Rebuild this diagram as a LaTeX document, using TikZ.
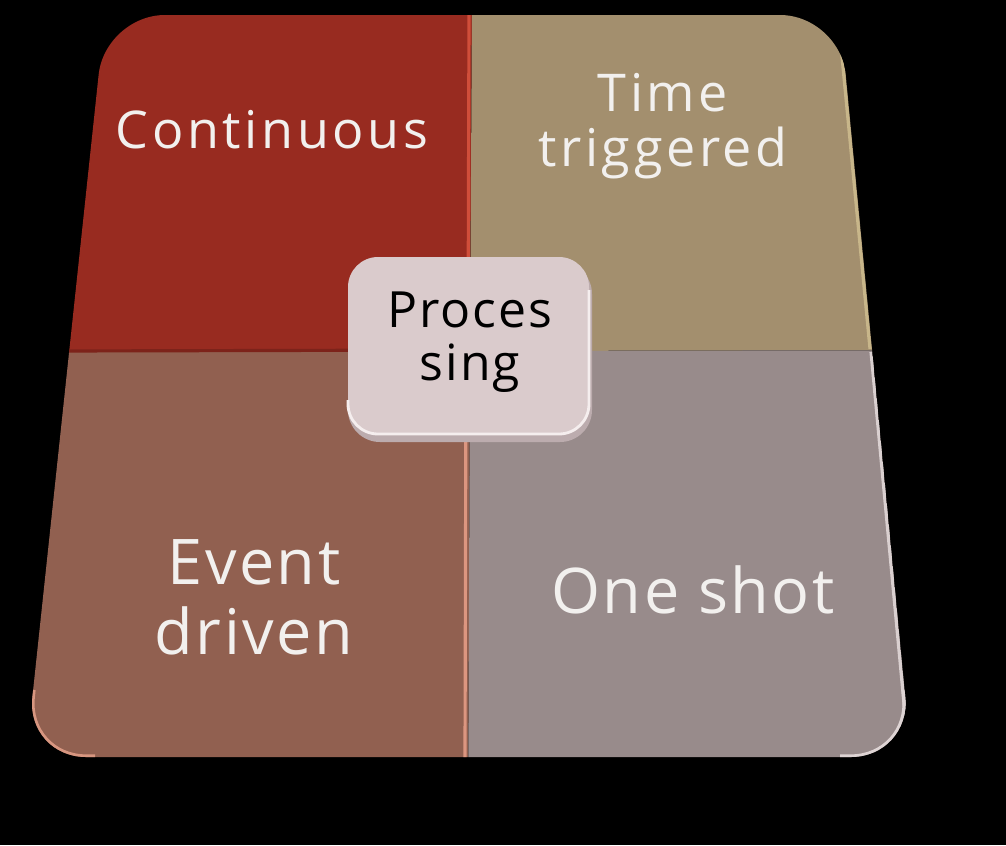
\documentclass[tikz,border=0pt]{standalone}
\usepackage{fontspec}
\setmainfont{Open Sans}[LetterSpace=4]
\definecolor{cTL}{RGB}{152,43,32}
\definecolor{cTR}{RGB}{163,143,110}
\definecolor{cBL}{RGB}{145,96,80}
\definecolor{cBR}{RGB}{152,139,139}
\definecolor{cBox}{RGB}{218,203,204}
\definecolor{cBoxEdge}{RGB}{188,172,174}
\definecolor{cTxt}{RGB}{242,240,238}
\tikzset{
  toplabel/.style={text=cTxt, align=center, font=\fontsize{14.8}{15.6}\selectfont\addfontfeature{LetterSpace=7}, inner sep=0pt},
  botlabel/.style={text=cTxt, align=center, font=\fontsize{17.9}{20}\selectfont, inner sep=0pt},
  boxlabel/.style={text=black, align=center, font=\fontsize{14.2}{15}\selectfont, inner sep=0pt},
  hilite/.style={line width=0.9pt}
}
\begin{document}
\begin{tikzpicture}[x=0.01cm, y=-0.01cm]
  \fill[black] (0,0) rectangle (1006,845);
  \useasboundingbox (0,0) rectangle (1006,845);
  \begin{scope}
    \clip[rounded corners=0.6cm] (105,15) -- (840,15) -- (911,757) -- (26,757) -- cycle;
    \fill[cTL] (0,0) -- (472,0) -- (470,351) -- (0,352) -- cycle;
    \fill[cTR] (472,0) -- (1006,0) -- (1006,350) -- (470,351) -- cycle;
    \fill[cBL] (0,352) -- (470,351) -- (468,845) -- (0,845) -- cycle;
    \fill[cBR] (470,351) -- (1006,350) -- (1006,845) -- (468,845) -- cycle;
    % bevel highlights
    \draw[hilite, color={rgb,255:red,208;green,78;blue,58}] (469,15) -- (468,350);
    \draw[hilite, color={rgb,255:red,220;green,150;blue,128}] (466,352) -- (465,757);
    \draw[hilite, color={rgb,255:red,125;green,35;blue,26}] (60,351) -- (468,350);
    \draw[hilite, color={rgb,255:red,200;green,182;blue,138}] (838,15) -- (870,349);
    \draw[hilite, color={rgb,255:red,218;green,208;blue,208}] (871,352) -- (909,757);
    \draw[line width=1.5pt, color={rgb,255:red,215;green,150;blue,128}, rounded corners=0.6cm] (33,690) -- (26,757) -- (95,757);
    \draw[line width=1.5pt, color={rgb,255:red,222;green,212;blue,212}, rounded corners=0.6cm] (840,757) -- (911,757) -- (904,690);
  \end{scope}
  % center box
  \fill[cBoxEdge, rounded corners=0.32cm] (348,262) rectangle (592,442);
  \fill[cBox, rounded corners=0.3cm] (348,257) rectangle (589,433);
  \draw[line width=0.8pt, color={rgb,255:red,245;green,238;blue,238}, rounded corners=0.3cm] (348,400) -- (348,434) -- (589,434) -- (589,290);
  % labels
  \node[toplabel] (cont) at (272,130) {Continuous};
  \node[toplabel] (time) at (663,126) {Time\\triggered};
  \node[botlabel] (event) at (254,597) {Event\\driven};
  \node[botlabel] (one) at (693,590) {One shot};
  \node[boxlabel] (proc) at (470,342) {Proces\\sing};
\end{tikzpicture}
\end{document}
